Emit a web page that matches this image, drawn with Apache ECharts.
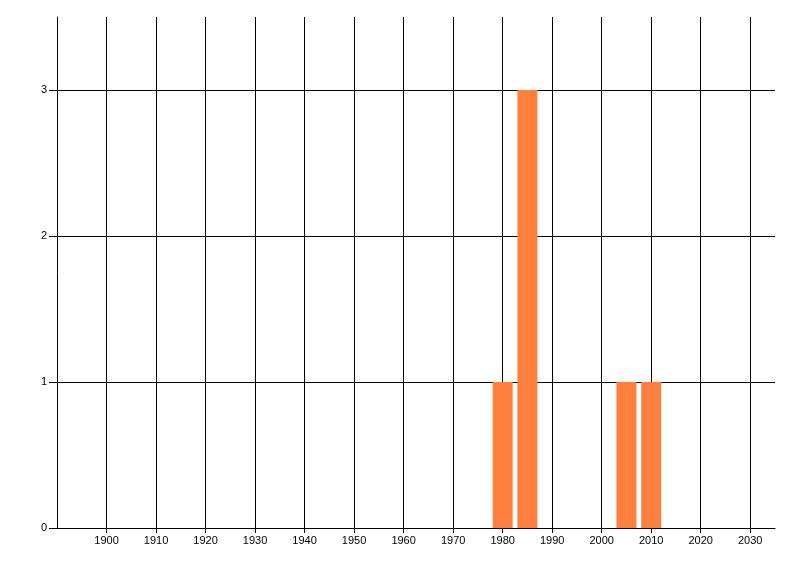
<!DOCTYPE html>
<html>
<head>
<meta charset="utf-8">
<script src="https://cdn.jsdelivr.net/npm/echarts@6/dist/echarts.min.js"></script>
<style>html,body{margin:0;padding:0;background:#fff;}#c{width:800px;height:576px;}</style>
</head>
<body>
<div id="c"></div>
<script>
const years = [1980, 1985, 2005, 2010];
const counts = [1, 3, 1, 1];
const xTicks = [1900, 1910, 1920, 1930, 1940, 1950, 1960, 1970, 1980, 1990, 2000, 2010, 2020, 2030];
const yTicks = [0, 1, 2, 3];

const chart = echarts.init(document.getElementById('c'), null, {renderer: 'canvas'});
const font = {fontFamily: 'Liberation Sans, Arial, sans-serif', fontSize: 11, color: '#000'};
chart.setOption({
  animation: false,
  backgroundColor: '#fff',
  grid: {left: 57, right: 25, top: 17, bottom: 48, containLabel: false},
  xAxis: {
    type: 'value', min: 1890, max: 2035, interval: 10,
    axisLine: {show: true, lineStyle: {color: '#000', width: 1}},
    axisTick: {show: true, length: 5, lineStyle: {color: '#000'}, customValues: xTicks},
    axisLabel: Object.assign({margin: 7, customValues: xTicks, formatter: v => String(v)}, font),
    splitLine: {show: true, lineStyle: {color: '#000', width: 1}}
  },
  yAxis: {
    type: 'value', min: 0, max: 3.5, interval: 1,
    axisLine: {show: true, lineStyle: {color: '#000', width: 1}},
    axisTick: {show: true, length: 8, lineStyle: {color: '#000'}, customValues: yTicks},
    axisLabel: Object.assign({margin: 10, customValues: yTicks}, font),
    splitLine: {show: true, lineStyle: {color: '#000', width: 1}}
  },
  series: [{
    type: 'bar',
    data: years.map((y, i) => [y, counts[i]]),
    barWidth: 20,
    itemStyle: {color: '#ff7f3f'}
  }]
});
</script>
</body>
</html>
